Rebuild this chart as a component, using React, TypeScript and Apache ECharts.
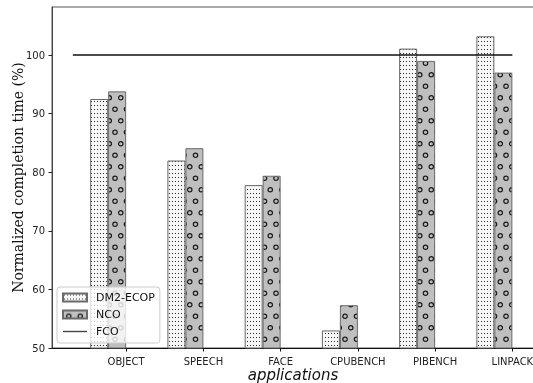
import React, { useEffect, useRef } from "react";
import * as echarts from "echarts";

const categories = ["OBJECT", "SPEECH", "FACE", "CPUBENCH", "PIBENCH", "LINPACK"];
const dm2Ecop = [92.5, 82.0, 77.8, 53.0, 101.1, 103.2];
const nco = [93.8, 84.1, 79.4, 57.3, 99.0, 97.0];
const fcoX = [-0.69, 5.0];
const fcoY = [100, 100];
const yTicks = [50, 60, 70, 80, 90, 100];

// bar geometry in category units
const BAR_UNITS = 0.233;

function makeDotPattern() {
  const c = document.createElement("canvas");
  c.width = 3;
  c.height = 4;
  const ctx = c.getContext("2d")!;
  ctx.fillStyle = "#f6f6f6";
  ctx.fillRect(0, 0, 3, 4);
  ctx.fillStyle = "#2a2a2a";
  ctx.fillRect(1, 1, 1, 1);
  return c;
}

function makeCirclePattern() {
  const s = 23;
  const c = document.createElement("canvas");
  c.width = s;
  c.height = s;
  const ctx = c.getContext("2d")!;
  ctx.fillStyle = "#bfbfbf";
  ctx.fillRect(0, 0, s, s);
  ctx.strokeStyle = "#1a1a1a";
  ctx.lineWidth = 1.2;
  const h = s / 2;
  const pts: [number, number][] = [
    [h / 2, h / 2],
    [h / 2 + h, h / 2],
    [0, h / 2 + h],
    [h, h / 2 + h],
    [s, h / 2 + h],
  ];
  for (const [x, y] of pts) {
    ctx.beginPath();
    ctx.arc(x, y, 2.2, 0, Math.PI * 2);
    ctx.stroke();
  }
  return c;
}

export default function App() {
  const ref = useRef<HTMLDivElement>(null);
  useEffect(() => {
    if (!ref.current) return;
    const chart = echarts.init(ref.current, null, { renderer: "svg" });
    const dot = makeDotPattern();
    const circ = makeCirclePattern();
    const dotFill: any = { image: dot, repeat: "repeat", imageWidth: dot.width, imageHeight: dot.height };
    const circFill: any = { image: circ, repeat: "repeat", imageWidth: circ.width, imageHeight: circ.height };
    const idx = categories.map((_, i) => i);
    chart.setOption({
      animation: false,
      textStyle: { fontFamily: "DejaVu Sans" },
      grid: {
        left: 52,
        right: -1,
        top: 7,
        bottom: 35,
        containLabel: false,
        outerBoundsMode: "none",
        show: true,
        borderColor: "#555",
        borderWidth: 1,
        backgroundColor: "transparent",
      },
      legend: {
        orient: "vertical",
        left: 57,
        top: 287,
        padding: [4, 5, 5, 5],
        itemWidth: 24,
        itemHeight: 8,
        itemGap: 4,
        backgroundColor: "rgba(255,255,255,0.8)",
        borderColor: "#cccccc",
        borderWidth: 1,
        borderRadius: 3,
        textStyle: { fontSize: 11, color: "#111", fontFamily: "DejaVu Sans", padding: [0, 0, 0, 4], lineHeight: 13 },
        data: [
          { name: "DM2-ECOP", icon: "rect" },
          { name: "NCO", icon: "rect" },
          { name: "FCO", icon: "path://M0,0H24V1.4H0Z", itemStyle: { color: "#444", borderWidth: 0 } },
        ],
      },
      xAxis: {
        type: "value",
        min: -0.96,
        max: 5.28,
        name: "applications",
        nameLocation: "middle",
        nameGap: 19,
        nameMoveOverlap: false,
        nameTextStyle: { fontSize: 15, lineHeight: 15, fontStyle: "italic", color: "#111", fontFamily: "DejaVu Sans" },
        axisLine: { show: true, onZero: false, lineStyle: { color: "#111", width: 1 } },
        axisTick: { show: true, length: 3.5, customValues: idx, lineStyle: { color: "#111" } },
        axisLabel: {
          show: true,
          customValues: idx,
          margin: 8,
          fontSize: 10,
          lineHeight: 10,
          color: "#222",
          formatter: (v: number) => categories[Math.round(v)] ?? "",
        },
        splitLine: { show: false },
      },
      yAxis: {
        type: "value",
        min: 50,
        max: 108.2,
        interval: 10,
        name: "Normalized completion time (%)",
        nameLocation: "middle",
        nameGap: 27,
        nameMoveOverlap: false,
        nameTextStyle: { fontSize: 14, color: "#111", fontFamily: "DejaVu Serif" },
        axisLine: { show: true, onZero: false, lineStyle: { color: "#444", width: 1 } },
        axisTick: { show: true, length: 3.5, customValues: yTicks, lineStyle: { color: "#222" } },
        axisLabel: { show: true, customValues: yTicks, margin: 7, fontSize: 10, color: "#222" },
        splitLine: { show: false },
      },
      series: [
        {
          name: "DM2-ECOP",
          type: "bar",
          barWidth: 18,
          barGap: "0%",
          data: categories.map((_, i) => [i - BAR_UNITS, dm2Ecop[i]]),
          itemStyle: { color: dotFill, borderColor: "#6a6a6a", borderWidth: 1 },
        },
        {
          name: "NCO",
          type: "bar",
          barWidth: 18,
          barGap: "0%",
          data: categories.map((_, i) => [i - BAR_UNITS, nco[i]]),
          itemStyle: { color: circFill, borderColor: "#6a6a6a", borderWidth: 1 },
        },
        {
          name: "FCO",
          type: "line",
          symbol: "none",
          data: fcoX.map((x, i) => [x, fcoY[i]]),
          lineStyle: { color: "#111", width: 1.5 },
          itemStyle: { color: "#333" },
          z: 3,
        },
      ],
    });
    return () => chart.dispose();
  }, []);
  return <div ref={ref} style={{ position: "fixed", left: 0, top: 0, width: 533, height: 383 }} />;
}
